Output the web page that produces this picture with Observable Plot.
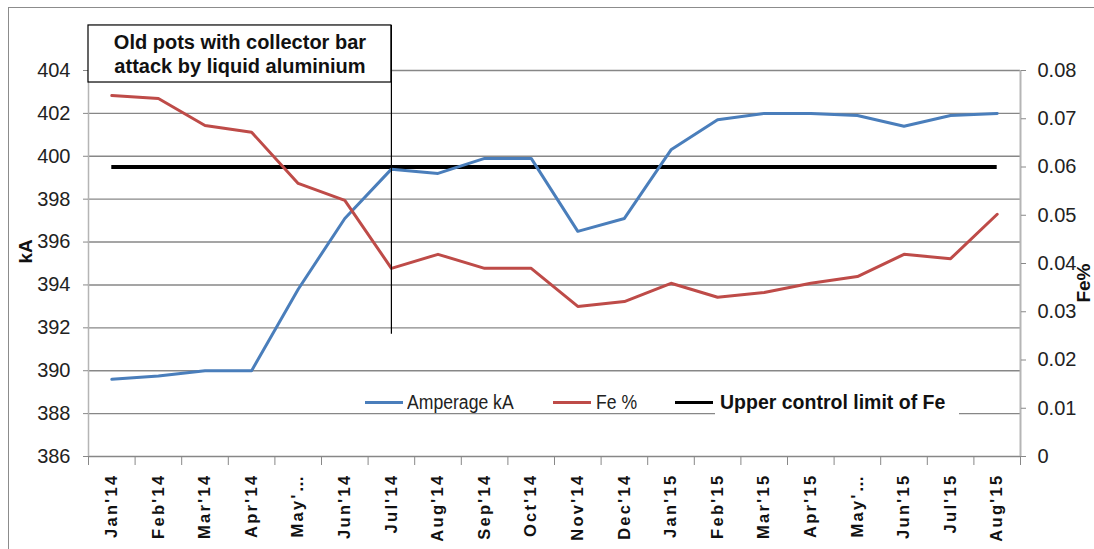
<!DOCTYPE html>
<html><head><meta charset="utf-8">
<script src="https://cdn.jsdelivr.net/npm/d3@7"></script>
<script src="https://cdn.jsdelivr.net/npm/@observablehq/plot@0.6"></script>
<style>
body{margin:0;background:#fff;}
#wrap{position:relative;width:1094px;height:549px;overflow:hidden;background:#fff;}
#border{position:absolute;left:8px;top:7px;width:1200px;height:700px;border:1.5px solid #8c8c8c;}
#chart{position:absolute;left:0;top:0;}
.lg-line{position:absolute;height:3px;}
.lg-text{position:absolute;white-space:nowrap;line-height:22px;}
</style></head>
<body><div id="wrap"><div id="border"></div><div id="chart"></div></div>
<script>
const months = ["Jan'14","Feb'14","Mar'14","Apr'14","May'…","Jun'14","Jul'14","Aug'14","Sep'14","Oct'14","Nov'14","Dec'14","Jan'15","Feb'15","Mar'15","Apr'15","May'…","Jun'15","Jul'15","Aug'15"];
const amperage = [389.6,389.75,390.0,390.0,393.8,397.1,399.4,399.2,399.9,399.9,396.5,397.1,400.3,401.7,402.0,402.0,401.9,401.4,401.9,402.0];
const fe = [0.0748,0.0742,0.0686,0.0672,0.0566,0.0531,0.0390,0.0419,0.0390,0.0390,0.0311,0.0321,0.0359,0.0330,0.0340,0.0359,0.0373,0.0419,0.0410,0.0502];
const feLimit = 0.06;
const kaTicks = [386,388,390,392,394,396,398,400,402,404];
const feTicks = [0,0.01,0.02,0.03,0.04,0.05,0.06,0.07,0.08];
const seriesNames = ["Amperage kA","Fe %","Upper control limit of Fe"];
const seriesColors = ["#4A7EBB","#BE4B48","#000000"];
const annotation = "Old pots with collector bar\nattack by liquid aluminium";

// map Fe% onto kA scale (secondary axis 0..0.08 ↔ 386..404)
const kaMin = 386, kaMax = 404, feMax = 0.08;
const feToKa = v => kaMin + v * (kaMax - kaMin) / feMax;

const narrow = "'Liberation Sans Narrow', 'Liberation Sans', sans-serif";
const sans = "'Liberation Sans', Arial, sans-serif";
const idx = months.map((m, i) => i);
const bounds = d3.range(-0.5, months.length, 1);

const chart = Plot.plot({
  width: 1094, height: 549,
  marginLeft: 88, marginRight: 74, marginTop: 70, marginBottom: 93,
  x: {type: "linear", domain: [-0.5, months.length - 0.5]},
  y: {domain: [kaMin, kaMax]},
  style: {background: "transparent", color: "#222"},
  marks: [
    Plot.ruleY(kaTicks, {stroke: "#878787", strokeWidth: 1.4}),
    Plot.ruleX([-0.5], {stroke: "#b5b5b5", strokeWidth: 1.5}),
    Plot.ruleX([months.length - 0.5], {stroke: "#b5b5b5", strokeWidth: 2}),
    Plot.axisY(kaTicks, {anchor: "left", label: null, tickSize: 5, tickPadding: 13, stroke: "#888", fontSize: 20, fontFamily: narrow, fill: "#222"}),
    Plot.axisY(feTicks.map(feToKa), {anchor: "right", label: null, tickSize: 5, tickPadding: 12, stroke: "#888", fontSize: 20, fontFamily: narrow, fill: "#222",
      tickFormat: d => { const v = Math.round((d - kaMin) / (kaMax - kaMin) * feMax * 100) / 100; return v === 0 ? "0" : v.toFixed(2); }}),
    Plot.axisX(bounds, {anchor: "bottom", label: null, tickSize: 9, stroke: "#888", tickFormat: () => ""}),
    Plot.axisX(idx, {anchor: "bottom", label: null, tickSize: 0, tickPadding: 17, tickRotate: -90, fontSize: 16.5, fontWeight: "bold", fontFamily: sans, fill: "#111",
      tickFormat: i => months[i]}),
    Plot.text(["kA"], {frameAnchor: "left", dx: -63, rotate: -90, fontSize: 19, fontWeight: "bold", fontFamily: sans, fill: "#111"}),
    Plot.text(["Fe%"], {frameAnchor: "right", dx: 63, rotate: -90, fontSize: 19, fontWeight: "bold", fontFamily: sans, fill: "#111"}),
    Plot.ruleY([feToKa(feLimit)], {x1: 0, x2: months.length - 1, stroke: seriesColors[2], strokeWidth: 4}),
    Plot.lineY(amperage, {x: (d, i) => i, y: d => d, stroke: seriesColors[0], strokeWidth: 3}),
    Plot.lineY(fe, {x: (d, i) => i, y: d => feToKa(d), stroke: seriesColors[1], strokeWidth: 3}),
    Plot.ruleX([6], {y1: 391.7, y2: 406.1, stroke: "#000", strokeWidth: 1.2}),
    Plot.rect([0], {x1: -0.5, x2: 6, y1: 403.44, y2: 406.1, fill: "#fff", stroke: "#000", strokeWidth: 1.2}),
    Plot.text([annotation], {x: 2.75, y: 404.8, fontSize: 20, fontWeight: "bold", fontFamily: sans, fill: "#111", lineHeight: 1.2})
  ]
});
document.getElementById("chart").appendChild(chart);
d3.select(chart).selectAll('g[aria-label="x-axis tick label"] text').style("letter-spacing", "2.3px");

// legend (inside plot area)
const wrap = document.getElementById("wrap");
const lgPos = [{l: 365, t: 407}, {l: 553, t: 596}, {l: 675, t: 720}];
seriesNames.forEach((name, i) => {
  const ln = document.createElement("div");
  ln.className = "lg-line";
  ln.style.cssText = `left:${lgPos[i].l}px;top:${400.5}px;width:38px;background:${seriesColors[i]};`;
  wrap.appendChild(ln);
  const tx = document.createElement("div");
  tx.className = "lg-text";
  tx.textContent = name;
  if (i < 2) {
    tx.style.cssText = `left:${lgPos[i].t}px;top:391px;font:20px ${narrow};color:#222;transform:scaleX(0.88);transform-origin:left center;`;
  } else {
    tx.style.cssText = `left:${lgPos[i].t - 5}px;top:391px;padding:0 14px 1px 5px;background:#fff;font:bold 19.5px ${sans};color:#111;`;
  }
  wrap.appendChild(tx);
});
</script>
</body></html>
